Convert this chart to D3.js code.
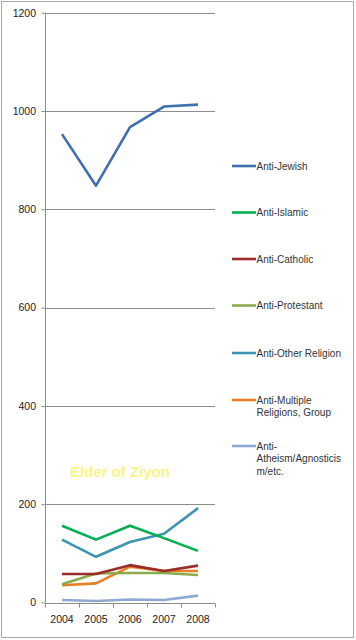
<!DOCTYPE html>
<html><head><meta charset="utf-8">
<script src="https://cdn.jsdelivr.net/npm/d3@7/dist/d3.min.js"></script>
<style>body{margin:0;background:#fff}svg{display:block}</style>
</head><body>
<script>
const years = ["2004","2005","2006","2007","2008"];
const seriesNames = ["Anti-Jewish","Anti-Islamic","Anti-Catholic","Anti-Protestant","Anti-Other Religion","Anti-Multiple Religions, Group","Anti-Atheism/Agnosticism/etc."];
const legendLines = [["Anti-Jewish"],["Anti-Islamic"],["Anti-Catholic"],["Anti-Protestant"],["Anti-Other Religion"],["Anti-Multiple","Religions, Group"],["Anti-","Atheism/Agnosticis","m/etc."]];
const antiJewish = [953, 848, 967, 1009, 1013];
const antiIslamic = [156, 128, 156, 131, 105];
const antiCatholic = [58, 58, 76, 64, 75];
const antiProtestant = [37, 59, 60, 60, 56];
const antiOther = [128, 93, 123, 140, 192];
const antiMultiple = [35, 39, 73, 64, 64];
const antiAtheism = [5, 3, 6, 5, 14];
const colors = ["#3f6fae","#00b050","#9c2b2b","#8aab4c","#3a95b4","#e67e22","#8ea9d4"];
const yTicks = [0,200,400,600,800,1000,1200];
const watermark = "Elder of Ziyon";

const allSeries = [antiJewish, antiIslamic, antiCatholic, antiProtestant, antiOther, antiMultiple, antiAtheism];

const W = 356, H = 640;
const svg = d3.select("body").append("svg").attr("width", W).attr("height", H);
svg.append("rect").attr("x",1.5).attr("y",1.5).attr("width",352).attr("height",636)
  .attr("fill","#fff").attr("stroke","#a8a8a8").attr("stroke-width",1);

const x = d3.scaleBand().domain(years).range([45,215]);
const y = d3.scaleLinear().domain([0,1200]).range([602.5,12.7]);
const font = "'Liberation Sans', Arial, sans-serif";

// gridlines
svg.append("g").selectAll("line").data(yTicks.filter(d=>d>0)).join("line")
  .attr("x1",45).attr("x2",215).attr("y1",d=>Math.round(y(d))+0.5).attr("y2",d=>Math.round(y(d))+0.5)
  .attr("stroke","#8c8c8c").attr("stroke-width",1);

// y axis
const yAxis = d3.axisLeft(y).tickValues(yTicks).tickFormat(d3.format("d")).tickSize(4).tickPadding(6);
const gy = svg.append("g").attr("transform","translate(45.5,0)").call(yAxis);
gy.select(".domain").attr("stroke","#8c8c8c").attr("d","M0,"+y(1200)+"V"+y(0));
gy.selectAll(".tick line").attr("stroke","#8c8c8c");
gy.selectAll(".tick text").attr("font-family",font).attr("font-size","10.5px").attr("fill","#222").attr("x",-9.5);

// x axis
const xAxis = d3.axisBottom(x).tickSize(0).tickPadding(12);
const gx = svg.append("g").attr("transform","translate(0,"+(Math.round(y(0))+0.5)+")").call(xAxis);
gx.select(".domain").attr("stroke","#8c8c8c").attr("d","M45,0H215");
gx.selectAll(".tick text").attr("font-family",font).attr("font-size","10.5px").attr("fill","#222");
gx.selectAll(".bnd").data(years.concat(["end"])).join("line").attr("class","bnd")
  .attr("x1",(d,i)=>Math.round(45+i*x.step())+0.5).attr("x2",(d,i)=>Math.round(45+i*x.step())+0.5)
  .attr("y1",0).attr("y2",4).attr("stroke","#8c8c8c");

// watermark
svg.append("text").attr("x",120).attr("y",477).attr("text-anchor","middle")
  .attr("font-family",font).attr("font-weight","bold").attr("font-size","15px")
  .attr("fill","#fbf27a").attr("opacity",0.9).text(watermark);

// lines
const line = d3.line().x((d,i)=>x(years[i])+x.bandwidth()/2).y(d=>y(d));
svg.append("g").selectAll("path").data(allSeries.map((v,i)=>({v,i})).reverse()).join("path")
  .attr("d",d=>line(d.v)).attr("fill","none").attr("stroke",d=>colors[d.i])
  .attr("stroke-width",2.6).attr("stroke-linejoin","round");

// legend
const legY = [166,212.5,259,305.5,353,400,446];
const lg = svg.append("g").selectAll("g").data(legendLines).join("g")
  .attr("transform",(d,i)=>"translate(0,"+legY[i]+")");
lg.append("line").attr("x1",232).attr("x2",256).attr("y1",0).attr("y2",0)
  .attr("stroke",(d,i)=>colors[i]).attr("stroke-width",2.6);
lg.each(function(d){
  const t = d3.select(this).append("text").attr("font-family",font).attr("font-size","10px").attr("fill","#333");
  d.forEach((s,j)=>t.append("tspan").attr("x", 256.5).attr("y", 3.5 + j*12.7).text(s));
});
</script>
</body></html>
